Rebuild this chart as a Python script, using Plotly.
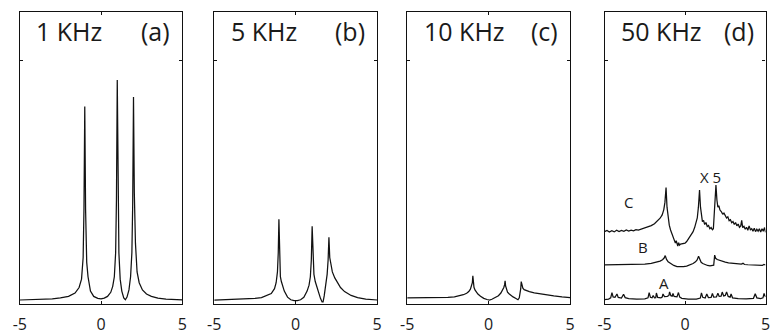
import plotly.graph_objects as go

# ---------------- data ----------------
x_ticks = [-5, 0, 5]
x_ticktext = ["-5", "0", "5"]
y_ticks = [1]

freq_labels = ["1 KHz", "5 KHz", "10 KHz", "50 KHz"]
panel_tags = ["(a)", "(b)", "(c)", "(d)"]

a_x = [-5, -4, -3, -2.5, -2, -1.6, -1.35, -1.2, -1.1, -1.05, -1.0, -0.95, -0.88, -0.8, -0.65, -0.45,
       -0.2, 0, 0.2, 0.4, 0.6, 0.72, 0.82, 0.9, 0.95, 1.0, 1.05, 1.1, 1.18, 1.28, 1.4, 1.5, 1.6,
       1.72, 1.82, 1.9, 1.95, 2.0, 2.05, 2.12, 2.22, 2.35, 2.55, 2.8, 3.1, 3.5, 4.0, 4.5, 5]
a_y = [0.003, 0.005, 0.008, 0.012, 0.018, 0.032, 0.055, 0.09, 0.18, 0.38, 0.81, 0.38, 0.16, 0.1, 0.04, 0.018,
       0.01, 0.008, 0.011, 0.018, 0.035, 0.06, 0.1, 0.2, 0.42, 0.92, 0.42, 0.2, 0.09, 0.04, 0.012, 0.004, 0.015,
       0.045, 0.1, 0.2, 0.4, 0.85, 0.45, 0.24, 0.12, 0.075, 0.045, 0.028, 0.018, 0.011, 0.007, 0.005, 0.004]

b_x = [-5, -4, -3, -2.5, -2.1, -1.8, -1.5, -1.3, -1.2, -1.12, -1.07, -1.03, -0.99, -0.94, -0.88, -0.8, -0.7,
       -0.5, -0.3, -0.1, 0.1, 0.3, 0.5, 0.7, 0.82, 0.9, 0.96, 1.01, 1.06, 1.12, 1.2, 1.3, 1.41, 1.52, 1.62,
       1.68, 1.75, 1.85, 1.93, 1.99, 2.04, 2.09, 2.16, 2.25, 2.4, 2.55, 2.75, 3.0, 3.4, 3.8, 4.3, 5.0]
b_y = [0.002, 0.004, 0.007, 0.01, 0.013, 0.02, 0.03, 0.05, 0.075, 0.12, 0.2, 0.34, 0.2, 0.1, 0.08, 0.06, 0.04,
       0.015, 0.004, 0.0, 0.0, 0.004, 0.014, 0.04, 0.065, 0.1, 0.17, 0.31, 0.17, 0.11, 0.08, 0.055, 0.035, 0.01, -0.005,
       -0.005, 0.02, 0.06, 0.11, 0.17, 0.265, 0.18, 0.15, 0.12, 0.095, 0.075, 0.055, 0.038, 0.022, 0.013, 0.007, 0.003]

c_x = [-5, -4, -3, -2.5, -2.1, -1.8, -1.55, -1.35, -1.22, -1.12, -1.05, -1.0, -0.97, -0.94, -0.9, -0.84, -0.76,
       -0.66, -0.5, -0.3, -0.1, 0.05, 0.2, 0.4, 0.6, 0.75, 0.85, 0.93, 0.98, 1.01, 1.04, 1.09, 1.16, 1.25,
       1.35, 1.5, 1.65, 1.8, 1.88, 1.93, 1.97, 2.0, 2.04, 2.1, 2.18, 2.3, 2.5, 2.8, 3.1, 3.5, 4.0, 4.5, 5.0]
c_y = [0.012, 0.012, 0.013, 0.014, 0.016, 0.02, 0.025, 0.031, 0.038, 0.048, 0.06, 0.075, 0.104, 0.072, 0.056, 0.045,
       0.036, 0.028, 0.019, 0.01, 0.005, 0.003, 0.006, 0.012, 0.021, 0.032, 0.043, 0.055, 0.067, 0.083, 0.062, 0.046,
       0.036, 0.029, 0.022, 0.016, 0.01, 0.004, 0.012, 0.03, 0.05, 0.08, 0.066, 0.052, 0.046, 0.042, 0.038, 0.033,
       0.029, 0.024, 0.02, 0.016, 0.013]

dA_x = [-5.0, -4.75, -4.62, -4.54, -4.47, -4.35, -4.23, -4.15, -3.95, -3.82, -3.72, -3.5, -3.0, -2.5, -2.3,
        -2.23, -2.15, -2.05, -1.98, -1.9, -1.82, -1.78, -1.7, -1.5, -1.42, -1.37, -1.28, -1.1, -1.0, -0.96,
        -0.88, -0.8, -0.75, -0.68, -0.5, -0.41, -0.33, -0.2, 0.2, 0.7, 0.95, 1.02, 1.1, 1.25, 1.35, 1.45,
        1.62, 1.7, 1.78, 1.95, 2.04, 2.12, 2.24, 2.31, 2.4, 2.5, 2.58, 2.68, 2.8, 2.86, 2.95, 3.3, 3.8,
        4.25, 4.36, 4.46, 4.7, 4.84, 4.91, 5.0]
dA_y = [0.005, 0.007, 0.012, 0.034, 0.016, 0.014, 0.028, 0.014, 0.011, 0.027, 0.013, 0.009, 0.007, 0.008, 0.012,
        0.034, 0.014, 0.012, 0.022, 0.012, 0.013, 0.032, 0.014, 0.012, 0.015, 0.028, 0.017, 0.018, 0.022, 0.037,
        0.021, 0.019, 0.03, 0.018, 0.016, 0.034, 0.015, 0.01, 0.007, 0.007, 0.011, 0.033, 0.014, 0.011, 0.028, 0.013,
        0.014, 0.03, 0.015, 0.016, 0.031, 0.018, 0.019, 0.036, 0.02, 0.022, 0.036, 0.018, 0.015, 0.028, 0.012, 0.009, 0.008,
        0.01, 0.029, 0.012, 0.009, 0.012, 0.03, 0.016]

dB_x = [-5, -4.5, -4, -3.5, -3, -2.5, -2.1, -1.8, -1.55, -1.4, -1.3, -1.23, -1.15, -1.05, -0.9, -0.7, -0.5,
        -0.3, -0.1, 0.1, 0.3, 0.5, 0.65, 0.75, 0.84, 0.92, 1.0, 1.1, 1.25, 1.4, 1.55, 1.7, 1.78, 1.84, 1.9,
        2.0, 2.15, 2.3, 2.5, 2.7, 2.9, 3.1, 3.3, 3.5, 3.6, 3.7, 3.9, 4.1, 4.3, 4.5, 4.7, 4.8, 4.9, 5.0]
dB_y = [0.149, 0.15, 0.149, 0.15, 0.151, 0.153, 0.156, 0.16, 0.165, 0.171, 0.178, 0.188, 0.172, 0.162, 0.154, 0.147, 0.142,
        0.141, 0.142, 0.144, 0.148, 0.155, 0.162, 0.17, 0.185, 0.168, 0.16, 0.155, 0.15, 0.147, 0.145, 0.145, 0.148, 0.19, 0.177,
        0.172, 0.168, 0.165, 0.161, 0.158, 0.156, 0.154, 0.152, 0.153, 0.156, 0.151, 0.15, 0.15, 0.149, 0.148, 0.15, 0.147, 0.151, 0.149]

dC_x = [-5.0, -4.85, -4.7, -4.55, -4.4, -4.25, -4.1, -3.95, -3.8, -3.65, -3.5, -3.35, -3.2, -3.05, -2.9, -2.7,
        -2.5, -2.3, -2.1, -1.9, -1.7, -1.55, -1.42, -1.32, -1.25, -1.18, -1.12, -1.06, -0.98, -0.9, -0.82, -0.74,
        -0.66, -0.6, -0.55, -0.5, -0.45, -0.4, -0.34, -0.28, -0.2, -0.1, 0.0, 0.1, 0.2, 0.3, 0.4, 0.5, 0.6, 0.68,
        0.76, 0.83, 0.9, 0.96, 1.02, 1.08, 1.15, 1.22, 1.3, 1.38, 1.46, 1.54, 1.62, 1.7, 1.76, 1.82, 1.92, 1.98,
        2.04, 2.1, 2.17, 2.25, 2.33, 2.42, 2.5, 2.58, 2.66, 2.74, 2.82, 2.9, 2.98, 3.06, 3.14, 3.22, 3.3, 3.38,
        3.46, 3.52, 3.58, 3.66, 3.74, 3.82, 3.9, 3.98, 4.06, 4.14, 4.22, 4.3, 4.38, 4.46, 4.54, 4.62, 4.7, 4.78,
        4.86, 4.94, 5.0]
dC_y = [0.288, 0.293, 0.286, 0.292, 0.287, 0.294, 0.288, 0.293, 0.289, 0.295, 0.29, 0.294, 0.291, 0.296, 0.294, 0.298,
        0.302, 0.307, 0.313, 0.321, 0.332, 0.344, 0.358, 0.38, 0.41, 0.472, 0.39, 0.345, 0.315, 0.295, 0.282, 0.268,
        0.257, 0.24, 0.25, 0.236, 0.228, 0.242, 0.232, 0.236, 0.238, 0.239, 0.24, 0.247, 0.256, 0.266, 0.274, 0.288, 0.306, 0.322,
        0.345, 0.39, 0.462, 0.39, 0.35, 0.33, 0.335, 0.318, 0.326, 0.31, 0.314, 0.3, 0.305, 0.296, 0.3, 0.38, 0.482, 0.42,
        0.39, 0.396, 0.378, 0.372, 0.362, 0.365, 0.352, 0.345, 0.35, 0.334, 0.338, 0.325, 0.33, 0.318, 0.326, 0.312, 0.32, 0.306,
        0.312, 0.335, 0.305, 0.31, 0.298, 0.306, 0.294, 0.312, 0.296, 0.3, 0.29, 0.302, 0.288, 0.298, 0.29, 0.3, 0.286, 0.3,
        0.29, 0.305, 0.285]

curve_labels = ["A", "B", "C", "X 5"]
curve_label_x = [-1.33, -2.6, -3.5, 1.6]
curve_label_y = [0.074, 0.225, 0.41, 0.518]

# ---------------- figure ----------------
W, H = 772, 335
FONT = "Open Sans"
LINE = "#111111"

domains_px = [(13, 178), (210.5, 376), (406.5, 572), (607, 770.5)]
x_range = [-5, 5]
y_range = [-0.0137, 1.204]

fig = go.Figure()

series = [
    [(a_x, a_y)],
    [(b_x, b_y)],
    [(c_x, c_y)],
    [(dA_x, dA_y), (dB_x, dB_y), (dC_x, dC_y)],
]

layout = dict(
    width=W, height=H,
    margin=dict(l=0, r=0, t=12, b=30),
    paper_bgcolor="white", plot_bgcolor="white",
    showlegend=False,
    font=dict(family=FONT, color="#1a1a1a"),
)

annotations = []
for i, (dom, sers) in enumerate(zip(domains_px, series)):
    k = "" if i == 0 else str(i + 1)
    xa, ya = "x" + k, "y" + k
    for xs, ys in sers:
        fig.add_trace(go.Scatter(x=xs, y=ys, mode="lines", xaxis=xa, yaxis=ya,
                                 line=dict(color=LINE, width=1.25), hoverinfo="skip"))
    layout["xaxis" + k] = dict(
        domain=[dom[0] / W, dom[1] / W], range=x_range, anchor=ya,
        tickmode="array", tickvals=x_ticks, ticktext=x_ticktext,
        ticks="inside", ticklen=3, tickcolor=LINE, tickwidth=1,
        showline=True, linecolor=LINE, linewidth=1.4, mirror="ticks",
        showgrid=False, zeroline=False,
        tickfont=dict(family=FONT, size=16, color="#1a1a1a"),
        ticklabelstandoff=6, fixedrange=True,
    )
    layout["yaxis" + k] = dict(
        domain=[0, 1], range=y_range, anchor=xa,
        tickmode="array", tickvals=y_ticks, showticklabels=False,
        ticks="inside", ticklen=3, tickcolor=LINE, tickwidth=1,
        showline=True, linecolor=LINE, linewidth=1.4, mirror="ticks",
        showgrid=False, zeroline=False, fixedrange=True,
    )
    annotations.append(dict(text=freq_labels[i], xref=xa + " domain", yref=ya + " domain",
                            x=0.09, y=0.935, xanchor="left", yanchor="middle", showarrow=False,
                            font=dict(family=FONT, size=25, color="#1a1a1a")))
    annotations.append(dict(text=panel_tags[i], xref=xa + " domain", yref=ya + " domain",
                            x=0.94, y=0.935, xanchor="right", yanchor="middle", showarrow=False,
                            font=dict(family=FONT, size=25, color="#1a1a1a")))

for t, lx, ly in zip(curve_labels, curve_label_x, curve_label_y):
    annotations.append(dict(text=t, xref="x4", yref="y4", x=lx, y=ly, showarrow=False,
                            xanchor="center", yanchor="middle",
                            font=dict(family=FONT, size=15, color="#1a1a1a")))

layout["annotations"] = annotations
fig.update_layout(**layout)
fig.write_html("out.html", config={"displayModeBar": False},
               post_script="document.body.style.margin='0px';document.body.style.padding='0px';")
